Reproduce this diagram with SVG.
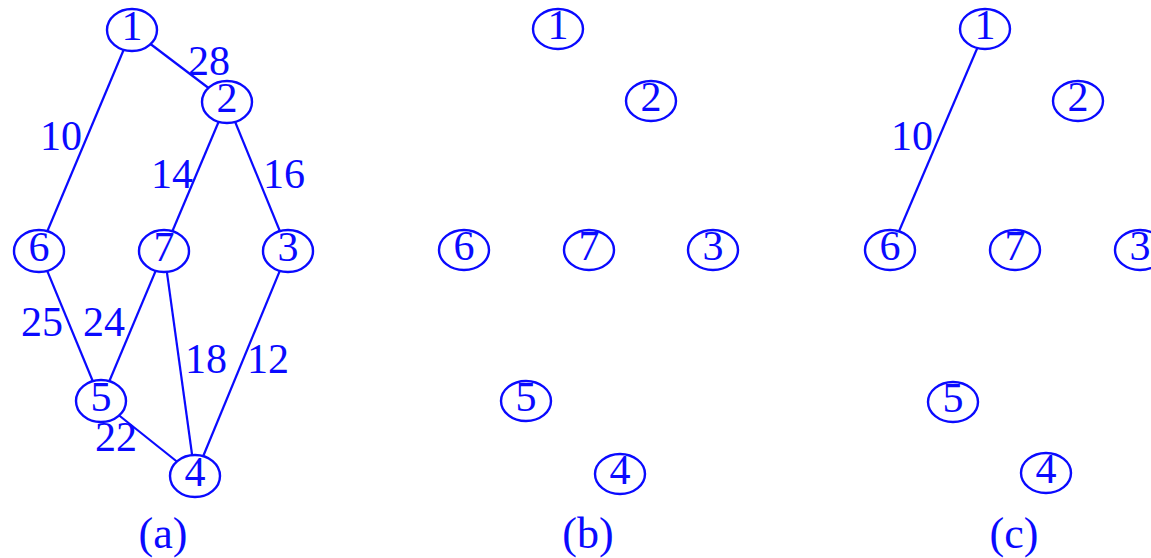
<svg xmlns="http://www.w3.org/2000/svg" width="1151" height="558" viewBox="0 0 1151 558">
<style>
.e{stroke:#0a0aff;stroke-width:2.2;fill:none}
.n ellipse{stroke:#0a0aff;stroke-width:2.4;fill:#fff}
text{font-family:"Liberation Serif","Times New Roman",serif;font-size:42px;fill:#0a0aff}
.n text{text-anchor:middle}
.cap{text-anchor:middle;font-size:44px}
</style>
<rect width="1151" height="558" fill="#fff"/>
<g id="connectors">
<line class="e" x1="132" y1="30" x2="39" y2="251"/>
<line class="e" x1="132" y1="30" x2="227" y2="102"/>
<line class="e" x1="227" y1="102" x2="164" y2="251"/>
<line class="e" x1="227" y1="102" x2="288" y2="251"/>
<line class="e" x1="39" y1="251" x2="101" y2="401"/>
<line class="e" x1="164" y1="251" x2="101" y2="401"/>
<line class="e" x1="164" y1="251" x2="195" y2="476"/>
<line class="e" x1="288" y1="251" x2="195" y2="476"/>
<line class="e" x1="101" y1="401" x2="195" y2="476"/>
<line class="e" x1="985" y1="30" x2="891" y2="250"/>
</g>
<g id="edge-labels">
<text x="40" y="150">10</text>
<text x="188" y="75">28</text>
<text x="151" y="188">14</text>
<text x="263" y="188">16</text>
<text x="21" y="336">25</text>
<text x="83" y="336">24</text>
<text x="185" y="373">18</text>
<text x="247" y="373">12</text>
<text x="95" y="451">22</text>
<text x="891" y="150">10</text>
</g>
<g id="a1" class="n"><ellipse cx="132" cy="30" rx="25" ry="21"/><text x="132" y="40">1</text></g>
<g id="a2" class="n"><ellipse cx="227" cy="102" rx="25" ry="21"/><text x="227" y="112">2</text></g>
<g id="a6" class="n"><ellipse cx="39" cy="251" rx="25" ry="21"/><text x="39" y="261">6</text></g>
<g id="a7" class="n"><ellipse cx="164" cy="251" rx="25" ry="21"/><text x="164" y="261">7</text></g>
<g id="a3" class="n"><ellipse cx="288" cy="251" rx="25" ry="21"/><text x="288" y="261">3</text></g>
<g id="a5" class="n"><ellipse cx="101" cy="401" rx="25" ry="21"/><text x="101" y="411">5</text></g>
<g id="a4" class="n"><ellipse cx="195" cy="476" rx="25" ry="21"/><text x="195" y="486">4</text></g>

<g id="b1" class="n"><ellipse cx="558" cy="29" rx="25" ry="20"/><text x="558" y="39">1</text></g>
<g id="b2" class="n"><ellipse cx="651" cy="101" rx="25" ry="20"/><text x="651" y="111">2</text></g>
<g id="b6" class="n"><ellipse cx="464" cy="250" rx="25" ry="20"/><text x="464" y="260">6</text></g>
<g id="b7" class="n"><ellipse cx="589" cy="250" rx="25" ry="20"/><text x="589" y="260">7</text></g>
<g id="b3" class="n"><ellipse cx="713" cy="250" rx="25" ry="20"/><text x="713" y="260">3</text></g>
<g id="b5" class="n"><ellipse cx="526" cy="401" rx="25" ry="20"/><text x="526" y="411">5</text></g>
<g id="b4" class="n"><ellipse cx="620" cy="474" rx="25" ry="20"/><text x="620" y="484">4</text></g>

<g id="c1" class="n"><ellipse cx="985" cy="29" rx="25" ry="20"/><text x="985" y="39">1</text></g>
<g id="c2" class="n"><ellipse cx="1078" cy="101" rx="25" ry="20"/><text x="1078" y="111">2</text></g>
<g id="c6" class="n"><ellipse cx="890" cy="250" rx="25" ry="20"/><text x="890" y="260">6</text></g>
<g id="c7" class="n"><ellipse cx="1015" cy="250" rx="25" ry="20"/><text x="1015" y="260">7</text></g>
<g id="c3" class="n"><ellipse cx="1140" cy="250" rx="25" ry="20"/><text x="1140" y="260">3</text></g>
<g id="c5" class="n"><ellipse cx="953" cy="402" rx="25" ry="20"/><text x="953" y="412">5</text></g>
<g id="c4" class="n"><ellipse cx="1046" cy="473" rx="25" ry="20"/><text x="1046" y="483">4</text></g>

<g id="captions">
<text class="cap" x="163" y="548">(a)</text>
<text class="cap" x="588" y="548">(b)</text>
<text class="cap" x="1014" y="548">(c)</text>
</g>
</svg>
